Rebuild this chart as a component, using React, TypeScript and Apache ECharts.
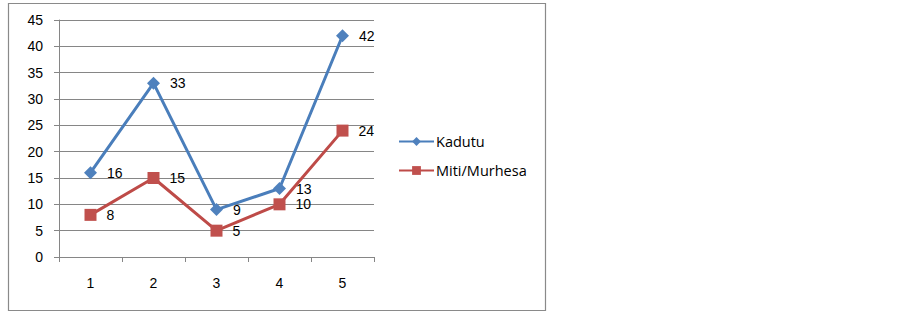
import React, { useEffect, useRef } from "react";
import * as echarts from "echarts";

const categories = ["1", "2", "3", "4", "5"];
const kadutu = [16, 33, 9, 13, 42];
const mitiMurhesa = [8, 15, 5, 10, 24];
const seriesNames = ["Kadutu", "Miti/Murhesa"];

const FONT = "Liberation Sans";
const LEGEND_FONT = "Open Sans";

export default function App() {
  const ref = useRef<HTMLDivElement>(null);
  useEffect(() => {
    if (!ref.current) return;
    const chart = echarts.init(ref.current, null, { renderer: "svg" });
    const labelStyle = {
      show: true,
      position: "right" as const,
      distance: 10,
      color: "#000",
      fontFamily: FONT,
      fontSize: 14,
      lineHeight: 14,
    };
    chart.setOption({
      animation: false,
      backgroundColor: "#fff",
      textStyle: { fontFamily: FONT },
      graphic: [
        {
          type: "rect",
          shape: { x: 8.5, y: 3.5, width: 537, height: 307 },
          style: { fill: "none", stroke: "#8a8a8a", lineWidth: 1.2 },
          silent: true,
        },
      ],
      grid: { left: 59, top: 20, right: 529, bottom: 56 },
      legend: {
        orient: "vertical",
        left: 398,
        top: 134,
        padding: 0,
        itemGap: 14,
        itemWidth: 35,
        itemHeight: 11,
        data: seriesNames,
        textStyle: { fontFamily: LEGEND_FONT, fontSize: 14.5, color: "#000", padding: [0, 0, 0, -3] },
      },
      xAxis: {
        type: "category",
        data: categories,
        boundaryGap: true,
        axisLine: { show: true, lineStyle: { color: "#868686", width: 1 } },
        axisTick: { show: true, length: 5, lineStyle: { color: "#868686" } },
        axisLabel: { color: "#000", fontFamily: FONT, fontSize: 14, margin: 19 },
      },
      yAxis: {
        type: "value",
        min: 0,
        max: 45,
        interval: 5,
        axisLine: { show: true, lineStyle: { color: "#868686", width: 1 } },
        axisTick: { show: true, length: 5, lineStyle: { color: "#868686" } },
        axisLabel: { color: "#000", fontFamily: FONT, fontSize: 14, margin: 16 },
        splitLine: { show: true, lineStyle: { color: "#868686", width: 1 } },
      },
      series: [
        {
          name: seriesNames[0],
          type: "line",
          data: kadutu,
          symbol: "diamond",
          symbolSize: 13,
          color: "#4A7EBB",
          itemStyle: { color: "#4F81BD" },
          lineStyle: { width: 3, color: "#4A7EBB" },
          label: labelStyle,
        },
        {
          name: seriesNames[1],
          type: "line",
          data: mitiMurhesa,
          symbol: "rect",
          symbolSize: 12,
          color: "#BE4B48",
          itemStyle: { color: "#C0504D" },
          lineStyle: { width: 3, color: "#BE4B48" },
          label: labelStyle,
        },
      ],
    });
    return () => chart.dispose();
  }, []);
  return (
    <div
      ref={ref}
      style={{ position: "fixed", left: 0, top: 0, width: 903, height: 313 }}
    />
  );
}
